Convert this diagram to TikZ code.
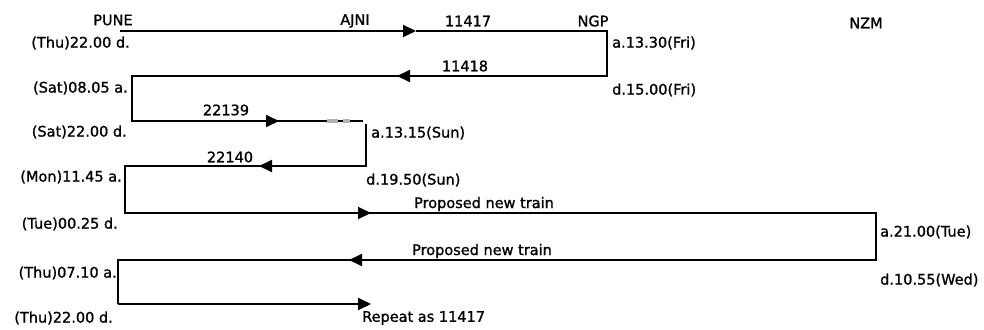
\documentclass[tikz,border=0pt]{standalone}
\usepackage{fontspec}
\setmainfont[FakeBold=1.2]{DejaVu Sans}
\usetikzlibrary{arrows.meta}
\begin{document}
\begin{tikzpicture}[x=1pt,y=-1pt,
  lbl/.style={font=\fontsize{14.5}{16}\selectfont, inner sep=0pt},
  trk/.style={line width=1.9pt, line cap=butt},
  arr/.style={trk, -{Triangle[length=13pt,width=12pt]}},
  grey/.style={line width=3.5pt, color=gray!60}]
\useasboundingbox (0,0) rectangle (984,329);
% coordinates of the route
\coordinate (a1) at (120,31);  \coordinate (t1) at (416,31);  \coordinate (b1) at (607,31);
\coordinate (b2) at (607,76);  \coordinate (t2) at (397,76);  \coordinate (a2) at (132,76);
\coordinate (a3) at (132,121); \coordinate (t3) at (279,121); \coordinate (b3) at (363,121);
\coordinate (c3) at (366,124); \coordinate (b4) at (366,166); \coordinate (t4) at (259,166);
\coordinate (a4) at (125,166); \coordinate (a5) at (125,213); \coordinate (t5) at (371,213);
\coordinate (b5) at (876,213); \coordinate (b6) at (876,260); \coordinate (t6) at (349,260);
\coordinate (a6) at (118,260); \coordinate (a7) at (118,304); \coordinate (t7) at (371,304);
\coordinate (g1) at (327,121); \coordinate (g2) at (338,121);
\coordinate (g3) at (343,121); \coordinate (g4) at (350,121);
% tracks
\draw[arr] (a1) -- (t1);
\draw[trk] (t1) -- (b1) -- (b2) -- (t2);
\draw[arr] (b2) -- (t2);
\draw[trk] (t2) -- (a2) -- (a3) -- (t3);
\draw[arr] (a3) -- (t3);
\draw[trk] (t3) -- (b3);
\draw[grey] (g1) -- (g2); \draw[grey] (g3) -- (g4);
\draw[trk] (c3) -- (b4) -- (t4);
\draw[arr] (b4) -- (t4);
\draw[trk] (t4) -- (a4) -- (a5) -- (t5);
\draw[arr] (a5) -- (t5);
\draw[trk] (t5) -- (b5) -- (b6) -- (t6);
\draw[arr] (b6) -- (t6);
\draw[trk] (t6) -- (a6) -- (a7);
\draw[arr] (a7) -- (t7);
% station labels
\node[lbl] (pune) at (113,20) {PUNE};
\node[lbl] (ajni) at (355,21) {AJNI};
\node[lbl] (n11417) at (468,21) {11417};
\node[lbl] (ngp) at (593,21) {NGP};
\node[lbl] (nzm) at (866,23) {NZM};
% train labels
\node[lbl] (n11418) at (465,66) {11418};
\node[lbl] (n22139) at (226,110) {22139};
\node[lbl] (n22140) at (230,157) {22140};
\node[lbl] (p1) at (484,204) {Proposed new train};
\node[lbl] (p2) at (482,251) {Proposed new train};
\node[lbl,anchor=west] (rep) at (362,318) {Repeat as 11417};
% left times
\node[lbl,anchor=east] (l1) at (130,43) {(Thu)22.00 d.};
\node[lbl,anchor=east] (l2) at (128,88) {(Sat)08.05 a.};
\node[lbl,anchor=east] (l3) at (127,132) {(Sat)22.00 d.};
\node[lbl,anchor=east] (l4) at (122,177) {(Mon)11.45 a.};
\node[lbl,anchor=east] (l5) at (118,224) {(Tue)00.25 d.};
\node[lbl,anchor=east] (l6) at (117,273) {(Thu)07.10 a.};
\node[lbl,anchor=east] (l7) at (113,318) {(Thu)22.00 d.};
% right times
\node[lbl,anchor=west] (r1) at (612,43) {a.13.30(Fri)};
\node[lbl,anchor=west] (r2) at (612,90) {d.15.00(Fri)};
\node[lbl,anchor=west] (r3) at (371,133) {a.13.15(Sun)};
\node[lbl,anchor=west] (r4) at (366,180) {d.19.50(Sun)};
\node[lbl,anchor=west] (r5) at (880,232) {a.21.00(Tue)};
\node[lbl,anchor=west] (r6) at (880,280) {d.10.55(Wed)};
\end{tikzpicture}
\end{document}
